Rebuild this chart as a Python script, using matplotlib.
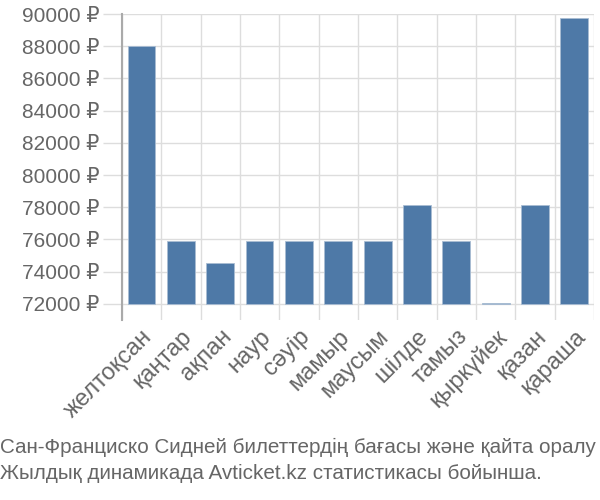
import matplotlib.pyplot as plt
import numpy as np

months = ['желтоқсан', 'қаңтар', 'ақпан', 'наур', 'сәуір', 'мамыр',
          'маусым', 'шілде', 'тамыз', 'қыркүйек', 'қазан', 'қараша']
prices = [88000, 75900, 74550, 75900, 75900, 75900,
          75900, 78150, 75900, 72050, 78150, 89750]
yticks = [72000, 74000, 76000, 78000, 80000, 82000, 84000, 86000, 88000, 90000]
base = 72000

plt.rcParams['font.family'] = ['Liberation Sans', 'DejaVu Sans']
grey = '#666666'

fig = plt.figure(figsize=(6, 5), dpi=100)
ax = fig.add_axes([0.203, 0.36, 0.787, 0.612])

x = np.arange(len(months))
h = [p - base for p in prices]
ax.bar(x, h, bottom=base, width=0.71, color='#4e79a7',
       edgecolor='#a9bdd3', linewidth=0.6, zorder=3)

ax.set_xlim(-0.5, len(months) - 0.5)
ax.set_ylim(71000, 90000)

ax.set_yticks(yticks)
ax.set_yticklabels([f'{v} ₽' for v in yticks], fontsize=15, color=grey)
ax.set_xticks(x)
ax.set_xticklabels(months, rotation=45, ha='right', rotation_mode='anchor',
                   fontsize=17, color=grey)
ax.set_xticks(np.arange(len(months) + 1) - 0.5, minor=True)

ax.tick_params(axis='y', length=14, color='#dddddd', width=1, pad=2)
ax.tick_params(axis='x', which='major', length=0, pad=4)
ax.tick_params(axis='x', which='minor', length=0)

ax.grid(axis='y', color='#dddddd', linewidth=1, zorder=0)
ax.grid(axis='x', which='minor', color='#dddddd', linewidth=1, zorder=0)
for s in ['top', 'right', 'bottom']:
    ax.spines[s].set_visible(False)
ax.spines['left'].set_color('#aaaaaa')
ax.spines['left'].set_linewidth(1.5)

fig.text(0.0, 0.105, 'Сан-Франциско Сидней билеттердің бағасы және қайта оралу',
         fontsize=14.9, color=grey, ha='left', va='center')
fig.text(0.0, 0.053, 'Жылдық динамикада Avticket.kz статистикасы бойынша.',
         fontsize=14.9, color=grey, ha='left', va='center')

fig.savefig('out.png', dpi=100)
